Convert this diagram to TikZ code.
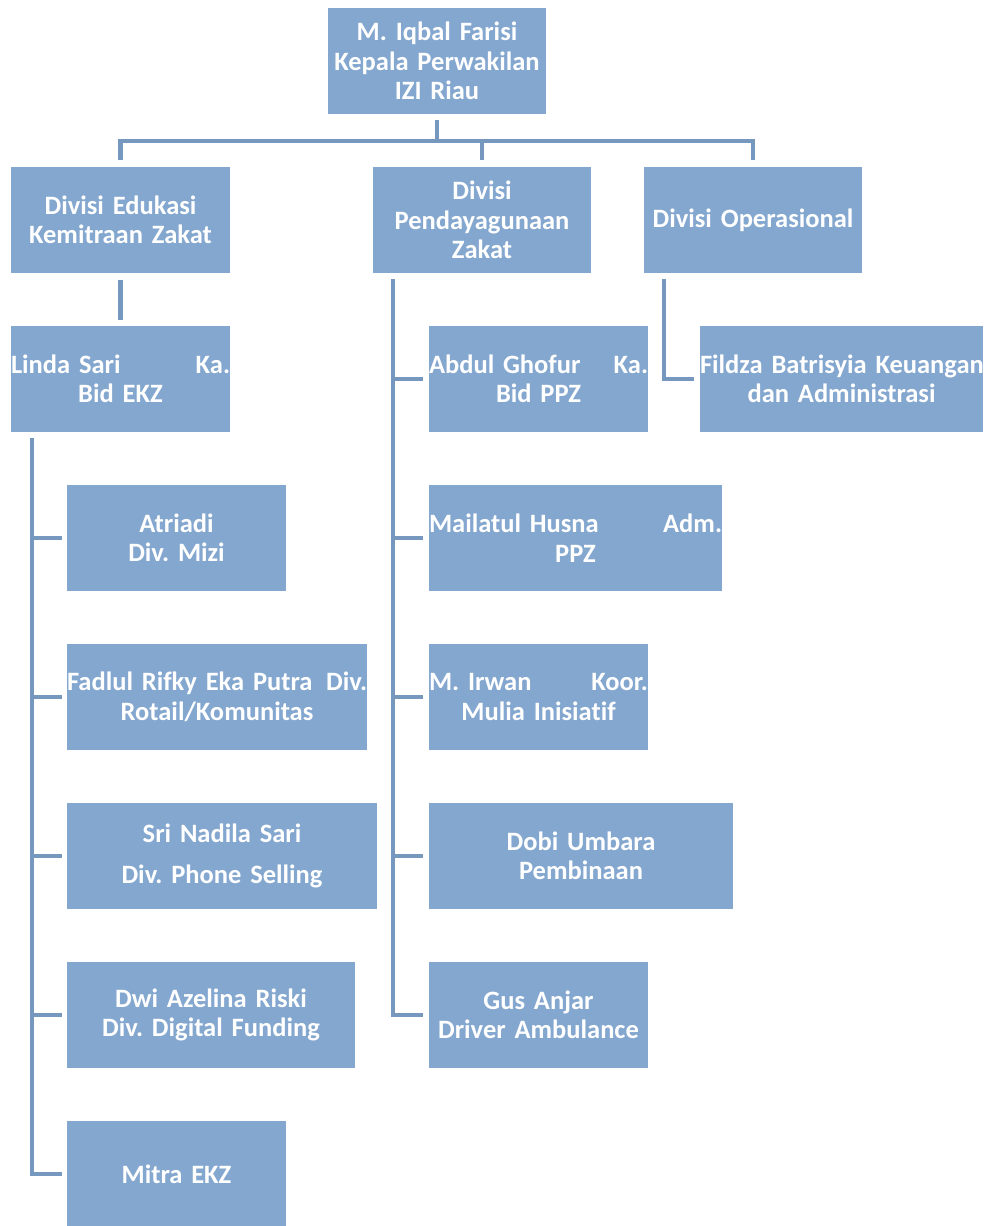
\documentclass[tikz,border=0pt]{standalone}
\usepackage{fontspec}
\setmainfont{Carlito}[WordSpace=0.8,RawFeature=-liga]
\definecolor{boxblue}{HTML}{84A7CF}
\definecolor{lineblue}{HTML}{7697BE}
\begin{document}
\begin{tikzpicture}[x=1pt,y=1pt,
  orgbox/.style={fill=boxblue, draw=none, inner sep=0pt, minimum height=106pt,
    text=white, align=center, font=\fontsize{26.5}{29.5}\selectfont\bfseries\frenchspacing},
  conn/.style={draw=lineblue, line width=4.5pt}]
\useasboundingbox (0,0) rectangle (985,-1226);
% boxes
\node[orgbox, minimum width=218pt, text width=218pt] (top) at (437,-61) {M. Iqbal Farisi\\Kepala Perwakilan\\IZI Riau};
\node[orgbox, minimum width=219pt, text width=219pt] (d1) at (120.5,-220) {Divisi Edukasi\\Kemitraan Zakat};
\node[orgbox, minimum width=218pt, text width=218pt] (d2) at (482,-220) {Divisi\\Pendayagunaan\\Zakat};
\node[orgbox, minimum width=218pt, text width=218pt] (d3) at (753,-220) {Divisi Operasional};
\node[orgbox, minimum width=219pt, text width=219pt] (linda) at (120.5,-379) {Linda Sari\hfill Ka.\\Bid EKZ};
\node[orgbox, minimum width=219pt, text width=219pt] (atriadi) at (176.5,-538) {Atriadi\\Div. Mizi};
\node[orgbox, minimum width=300pt, text width=300pt] (fadlul) at (217,-697) {Fadlul Rifky Eka Putra\hfill Div.\\Rotail/Komunitas};
\node[orgbox, minimum width=310pt, text width=310pt] (sri) at (222,-856) {Sri Nadila Sari\\[11pt]Div. Phone Selling};
\node[orgbox, minimum width=288pt, text width=288pt] (dwi) at (211,-1015) {Dwi Azelina Riski\\Div. Digital Funding};
\node[orgbox, minimum width=219pt, text width=219pt] (mitra) at (176.5,-1174) {Mitra EKZ};
\node[orgbox, minimum width=219pt, text width=219pt] (abdul) at (538.5,-379) {Abdul Ghofur\hfill Ka.\\Bid PPZ};
\node[orgbox, minimum width=293pt, text width=293pt] (mailatul) at (575.5,-538) {Mailatul Husna\hfill Adm.\\PPZ};
\node[orgbox, minimum width=219pt, text width=219pt] (irwan) at (538.5,-697) {M. Irwan\hfill Koor.\\Mulia Inisiatif};
\node[orgbox, minimum width=304pt, text width=304pt] (dobi) at (581,-856) {Dobi Umbara\\Pembinaan};
\node[orgbox, minimum width=219pt, text width=219pt] (gus) at (538.5,-1015) {Gus Anjar\\Driver Ambulance};
\node[orgbox, minimum width=283pt, text width=283pt] (fildza) at (841.5,-379) {\mbox{Fildza Batrisyia Keuangan}\\dan Administrasi};
% connectors: top level
\coordinate (bus) at (437,-141);
\draw[conn] ([yshift=-6pt]top.south) -- (top.south |- bus);
\draw[conn] ([yshift=7pt]d1.north) |- (bus) -| ([yshift=7pt]d3.north);
\draw[conn] ([yshift=7pt]d2.north) -- (d2.north |- bus);
% left branch
\draw[conn] ([yshift=-7pt]d1.south) -- ([yshift=6pt]linda.north);
\coordinate (lsp) at ([xshift=21pt,yshift=-6pt]linda.south west);
\draw[conn] (lsp) |- ([xshift=-5pt]mitra.west);
\foreach \n in {atriadi,fadlul,sri,dwi}
  \draw[conn] (lsp |- \n.west) -- ([xshift=-5pt]\n.west);
% middle branch
\coordinate (msp) at ([xshift=20pt,yshift=-6pt]d2.south west);
\draw[conn] (msp) |- ([xshift=-6pt]gus.west);
\foreach \n in {abdul,mailatul,irwan,dobi}
  \draw[conn] (msp |- \n.west) -- ([xshift=-6pt]\n.west);
% right branch
\coordinate (rsp) at ([xshift=20pt,yshift=-6pt]d3.south west);
\draw[conn] (rsp) |- ([xshift=-6pt]fildza.west);
\end{tikzpicture}
\end{document}
